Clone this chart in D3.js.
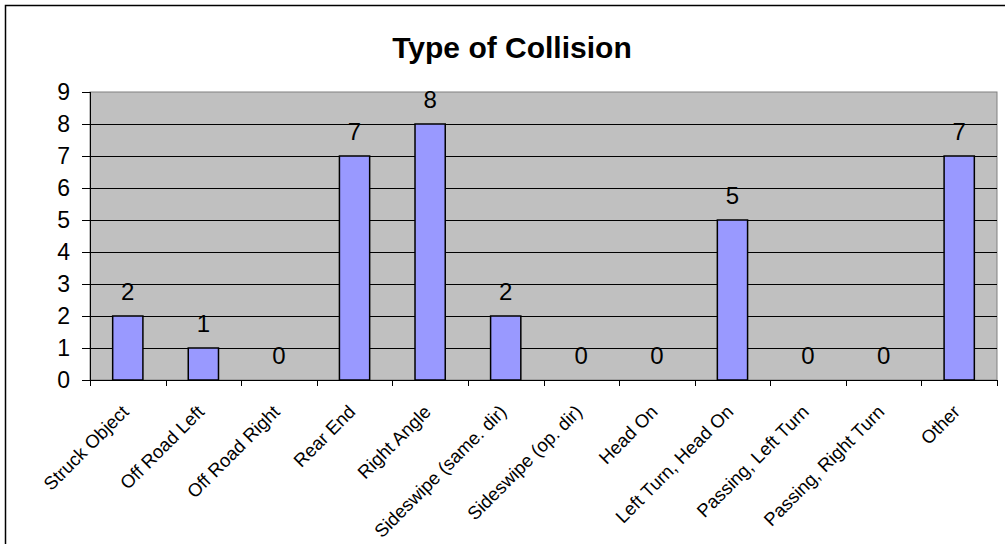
<!DOCTYPE html>
<html>
<head>
<meta charset="utf-8">
<script src="https://cdn.jsdelivr.net/npm/d3@7"></script>
<style>
  body { margin: 0; background: #fff; }
  text { font-family: "Liberation Sans", Arial, sans-serif; }
</style>
</head>
<body>
<script>
let categories = ["Struck Object", "Off Road Left", "Off Road Right", "Rear End", "Right Angle",
  "Sideswipe (same. dir)", "Sideswipe (op. dir)", "Head On", "Left Turn, Head On",
  "Passing, Left Turn", "Passing, Right Turn", "Other"];
let counts = [2, 1, 0, 7, 8, 2, 0, 0, 5, 0, 0, 7];
let yTicks = [0, 1, 2, 3, 4, 5, 6, 7, 8, 9];
let title = "Type of Collision";

let margin = { top: 92, right: 8, bottom: 164, left: 90 },
  width = 1005 - margin.left - margin.right,
  height = 544 - margin.top - margin.bottom;

let root = d3.select("body").append("svg")
  .attr("width", 1005)
  .attr("height", 544);

// outer chart border
root.append("rect")
  .attr("x", 5.5).attr("y", 5.5)
  .attr("width", 1010).attr("height", 550)
  .attr("fill", "#fff")
  .attr("stroke", "#000")
  .attr("stroke-width", 1.5);

root.append("text")
  .attr("x", 512)
  .attr("y", 58)
  .attr("text-anchor", "middle")
  .attr("font-size", 30)
  .attr("font-weight", "bold")
  .text(title);

let svg = root.append("g")
  .attr("transform", "translate(" + margin.left + "," + margin.top + ")");

let x = d3.scaleBand()
  .domain(categories)
  .range([0, width])
  .paddingInner(0.6)
  .paddingOuter(0.3);

let y = d3.scaleLinear()
  .domain([0, 9])
  .range([height, 0]);

// plot background
svg.append("rect")
  .attr("width", width)
  .attr("height", height)
  .attr("fill", "#c0c0c0")
  .attr("stroke", "#808080");

// gridlines + y axis
svg.append("g")
  .attr("class", "axis")
  .call(d3.axisLeft(y)
    .tickValues(yTicks)
    .tickSize(-width)
    .tickPadding(20)
    .tickFormat(d => d))
  .call(g => g.select(".domain").remove())
  .call(g => g.selectAll(".tick line")
    .attr("stroke", "#000")
    .attr("x1", -8)
    .attr("x2", d => d === 9 ? 0 : width))
  .call(g => g.selectAll(".tick text")
    .attr("font-size", 23)
    .attr("fill", "#000"));

// left axis line
svg.append("line")
  .attr("x1", 0.5).attr("x2", 0.5)
  .attr("y1", 0).attr("y2", height)
  .attr("stroke", "#000");

// category tick marks between bars
let bounds = d3.range(categories.length + 1);
svg.selectAll(".ctick")
  .data(bounds)
  .enter().append("line")
  .attr("x1", i => Math.round(i * width / categories.length) + 0.5)
  .attr("x2", i => Math.round(i * width / categories.length) + 0.5)
  .attr("y1", height)
  .attr("y2", height + 6)
  .attr("stroke", "#000");

svg.selectAll(".bar")
  .data(counts)
  .enter().append("rect")
  .attr("x", (d, i) => x(categories[i]))
  .attr("y", d => y(d))
  .attr("width", x.bandwidth())
  .attr("height", d => height - y(d))
  .attr("fill", "#9999ff")
  .attr("stroke", "#000")
  .attr("stroke-width", 1.5);

// bottom axis line
svg.append("line")
  .attr("x1", 0).attr("x2", width)
  .attr("y1", height + 0.5).attr("y2", height + 0.5)
  .attr("stroke", "#000");

svg.selectAll(".vlabel")
  .data(counts)
  .enter().append("text")
  .attr("x", (d, i) => x(categories[i]) + x.bandwidth() / 2)
  .attr("y", d => y(d) - 16)
  .attr("text-anchor", "middle")
  .attr("font-size", 24)
  .text(d => d);

svg.selectAll(".clabel")
  .data(categories)
  .enter().append("text")
  .attr("transform", d => "translate(" + (x(d) + x.bandwidth() / 2 + 2) + "," + (height + 33) + ") rotate(-45)")
  .attr("text-anchor", "end")
  .attr("font-size", 18.5)
  .text(d => d);
</script>
</body>
</html>
